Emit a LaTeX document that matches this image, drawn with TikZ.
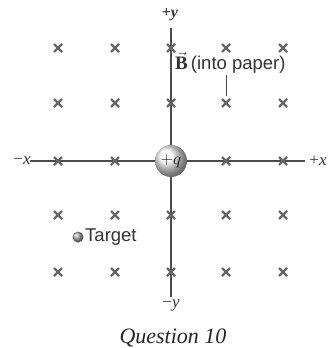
\documentclass[tikz,border=0pt]{standalone}
\usepackage{fontspec}
\setsansfont{Liberation Sans}
\newfontfamily\capfont{Liberation Serif}
\begin{document}
\begin{tikzpicture}[x=1pt,y=-1pt,
  cross/.style={draw=gray!80!black, line width=2.2pt},
  axis/.style={draw=black!70, line width=1.4pt},
  axlabel/.style={font=\fontsize{17}{19}\selectfont\capfont, inner sep=0pt, text=black!80},
  sanslabel/.style={font=\fontsize{18.5}{20}\selectfont\sffamily, inner sep=0pt, text=black!80}]
\useasboundingbox (0,0) rectangle (328,348);
% axes
\coordinate (ytop) at (171,28);
\coordinate (ybot) at (171,297);
\coordinate (xl) at (30,161);
\coordinate (xr) at (305,161);
\draw[axis] (ytop) -- (ybot);
\draw[axis] (xl) -- (xr);
% crosses
\foreach \x in {58,115,171,226,283}{
  \foreach \y in {48,103,161,215,272}{
    \ifnum\x=171 \ifnum\y=161 \else
      \draw[cross] (\x-4,\y-4) -- (\x+4,\y+4) (\x-4,\y+4) -- (\x+4,\y-4);
    \fi\else
      \draw[cross] (\x-4,\y-4) -- (\x+4,\y+4) (\x-4,\y+4) -- (\x+4,\y-4);
    \fi
  }
}
% charge
\shade[ball color=gray!6] (171,161) circle (16);
\node[font=\fontsize{17}{19}\selectfont, inner sep=0pt, text=black!90] (q) at (171,161) {$+q$};
% axis labels
\node[axlabel, font=\fontsize{16}{18}\selectfont\capfont\bfseries] (py) at (170,15) {+\textit{y}};
\node[axlabel] (my) at (171,305) {\textminus\textit{y}};
\node[axlabel] (mx) at (22,161) {\textminus\textit{x}};
\node[axlabel] (px) at (318,161) {+\textit{x}};
% B label
\node[sanslabel, anchor=west] (B) at (175,63) {{\capfont\bfseries\fontsize{19}{20}\selectfont$\vec{\textbf{B}}$}\,(into paper)};
\coordinate (lt) at (226,75);
\coordinate (lb) at (226,96);
\draw[draw=black!70, line width=0.8pt] (lt) -- (lb);
% target
\shade[ball color=gray!70] (78,237) circle (5.5);
\node[sanslabel, anchor=west] (target) at (85,237) {Target};
% caption
\node[font=\fontsize{22}{24}\selectfont\capfont\itshape, inner sep=0pt, text=black!85] (cap) at (173,338) {Question 10};
\end{tikzpicture}
\end{document}
